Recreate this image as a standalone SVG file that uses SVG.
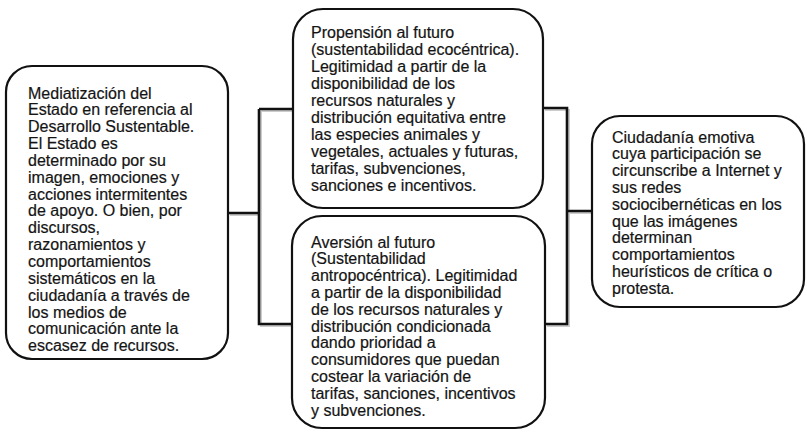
<svg xmlns="http://www.w3.org/2000/svg" width="807" height="432" viewBox="0 0 807 432">
  <style>
    .box { fill: #ffffff; stroke: #111111; stroke-width: 2.2; }
    .wire { fill: none; stroke: #111111; stroke-width: 2.6; stroke-linejoin: miter; }
    .shade { fill: none; stroke: #cccccc; stroke-width: 2; }
    text { font-family: "Liberation Sans", Arial, Helvetica, sans-serif; font-size: 16px; fill: #141414; stroke: #141414; stroke-width: 0.2; }
  </style>
  <rect width="807" height="432" fill="#ffffff"/>

  <!-- connectors -->
  <g id="connectors">
    <path class="shade" d="M230,215 H261 M261,111 V326 H294 M261,111 H295"/>
    <path class="shade" d="M545,110 H569 V326 H547 M569,213 H594"/>
    <path class="wire" d="M228,213 H259 M259,109 V324 H292 M259,109 H293"/>
    <path class="wire" d="M543,108 H567 V324 H545 M567,211 H592"/>
  </g>

  <!-- left: media coverage of the State -->
  <g id="node-estado">
    <rect class="box" x="6" y="66" width="222" height="293" rx="26" ry="26"/>
    <text x="28" y="98.5">
      <tspan x="28">Mediatización del</tspan>
      <tspan x="28" dy="16.85">Estado en referencia al</tspan>
      <tspan x="28" dy="16.85">Desarrollo Sustentable.</tspan>
      <tspan x="28" dy="16.85">El Estado es</tspan>
      <tspan x="28" dy="16.85">determinado por su</tspan>
      <tspan x="28" dy="16.85">imagen, emociones y</tspan>
      <tspan x="28" dy="16.85">acciones intermitentes</tspan>
      <tspan x="28" dy="16.85">de apoyo. O bien, por</tspan>
      <tspan x="28" dy="16.85">discursos,</tspan>
      <tspan x="28" dy="16.85">razonamientos y</tspan>
      <tspan x="28" dy="16.85">comportamientos</tspan>
      <tspan x="28" dy="16.85">sistemáticos en  la</tspan>
      <tspan x="28" dy="16.85">ciudadanía a través de</tspan>
      <tspan x="28" dy="16.85">los medios de</tspan>
      <tspan x="28" dy="16.85">comunicación ante la</tspan>
      <tspan x="28" dy="16.85">escasez de recursos.</tspan>
    </text>
  </g>

  <!-- upper middle: propensity to the future -->
  <g id="node-propension">
    <rect class="box" x="293" y="9" width="250" height="199" rx="30" ry="30"/>
    <text x="311" y="37.5">
      <tspan x="311">Propensión al futuro</tspan>
      <tspan x="311" dy="17.1">(sustentabilidad ecocéntrica).</tspan>
      <tspan x="311" dy="17.1">Legitimidad a partir de la</tspan>
      <tspan x="311" dy="17.1">disponibilidad de los</tspan>
      <tspan x="311" dy="17.1">recursos naturales y</tspan>
      <tspan x="311" dy="17.1">distribución equitativa entre</tspan>
      <tspan x="311" dy="17.1">las especies animales y</tspan>
      <tspan x="311" dy="17.1">vegetales, actuales y futuras,</tspan>
      <tspan x="311" dy="17.1">tarifas, subvenciones,</tspan>
      <tspan x="311" dy="17.1">sanciones e incentivos.</tspan>
    </text>
  </g>

  <!-- lower middle: aversion to the future -->
  <g id="node-aversion">
    <rect class="box" x="292" y="216" width="253" height="212" rx="30" ry="30"/>
    <text x="311" y="247.5">
      <tspan x="311">Aversión al futuro</tspan>
      <tspan x="311" dy="16.8">(Sustentabilidad</tspan>
      <tspan x="311" dy="16.8">antropocéntrica). Legitimidad</tspan>
      <tspan x="311" dy="16.8">a partir de la disponibilidad</tspan>
      <tspan x="311" dy="16.8">de los recursos naturales y</tspan>
      <tspan x="311" dy="16.8">distribución condicionada</tspan>
      <tspan x="311" dy="16.8">dando prioridad a</tspan>
      <tspan x="311" dy="16.8">consumidores que puedan</tspan>
      <tspan x="311" dy="16.8">costear la variación de</tspan>
      <tspan x="311" dy="16.8">tarifas, sanciones, incentivos</tspan>
      <tspan x="311" dy="16.8">y subvenciones.</tspan>
    </text>
  </g>

  <!-- right: emotional citizenship -->
  <g id="node-ciudadania">
    <rect class="box" x="592" y="116" width="212" height="191" rx="28" ry="28"/>
    <text x="612" y="142.5">
      <tspan x="612">Ciudadanía emotiva</tspan>
      <tspan x="612" dy="16.8">cuya participación se</tspan>
      <tspan x="612" dy="16.8">circunscribe a Internet y</tspan>
      <tspan x="612" dy="16.8">sus redes</tspan>
      <tspan x="612" dy="16.8">sociocibernéticas en los</tspan>
      <tspan x="612" dy="16.8">que las imágenes</tspan>
      <tspan x="612" dy="16.8">determinan</tspan>
      <tspan x="612" dy="16.8">comportamientos</tspan>
      <tspan x="612" dy="16.8">heurísticos de crítica o</tspan>
      <tspan x="612" dy="16.8">protesta.</tspan>
    </text>
  </g>
</svg>
